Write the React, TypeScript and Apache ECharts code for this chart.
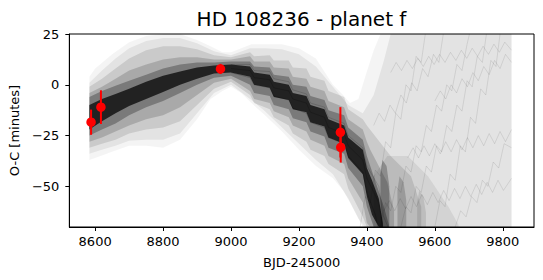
import React, { useEffect, useRef } from "react";
import * as echarts from "echarts";

const TITLE = "HD 108236 - planet f";
const X_NAME = "BJD-245000";
const Y_NAME = "O-C [minutes]";
const X_TICKS = [8600, 8800, 9000, 9200, 9400, 9600, 9800];
const Y_TICKS = [-50, -25, 0, 25];

// observed transit timings
const obsX = [8588, 8617, 8969, 9322, 9323];
const obsY = [-18.4, -11, 7.8, -23.4, -30.8];
const obsErr = [6.2, 8.3, 2.5, 12.4, 7.5];

// posterior density envelopes, outermost to innermost: [x, lower, upper]
const bandL1 = [
  [8583, -37, 4], [8600, -36, 8], [8650, -33, 15], [8700, -30, 21], [8750, -30, 24],
  [8800, -31, 25], [8850, -27, 25], [8900, -17, 22], [8940, -7, 19], [8975, -3, 16],
  [9000, -1, 16], [9030, -4, 18], [9060, -9, 20], [9100, -15, 20], [9150, -23, 20],
  [9200, -32, 18], [9250, -40, 13], [9300, -46, 0], [9330, -52, -5], [9350, -58, -9],
  [9375, -66, -7], [9395, -70, 4], [9420, -70, 17], [9440, -70, 25], [9826, -70, 25],
];
const bandL2 = [
  [8583, -34, 1], [8620, -32, 7], [8660, -30, 13], [8700, -27.5, 18], [8750, -27, 21.5],
  [8800, -27, 23], [8850, -24, 23], [8900, -14, 20.5], [8950, -4, 16.5], [9000, 0, 14.5],
  [9056, -7, 18], [9100, -13, 18], [9150, -21, 17.5], [9200, -29, 15], [9250, -37, 9],
  [9300, -44, -1], [9345, -56, -10], [9388, -70, -14], [9420, -70, -5], [9450, -70, 12],
  [9470, -70, 25], [9826, -70, 25],
];
const bandL3 = [
  [8583, -31, -1], [8620, -29, 3], [8660, -27, 8], [8700, -24, 13], [8750, -22, 17],
  [8800, -21, 19], [8850, -18, 19], [8900, -10, 17.5], [8950, -2, 14.5], [9000, 1.5, 13.5],
  [9056, -5, 16], [9068, -9, 14], [9114, -12, 14.5], [9126, -16, 12], [9170, -20, 12],
  [9182, -24, 8.5], [9222, -28, 8], [9234, -32, 4], [9275, -35, 2], [9287, -39, -3],
  [9333, -44, -6], [9345, -51, -12], [9388, -65, -17], [9400, -70, -20], [9470, -70, -35],
  [9530, -70, -45], [9560, -70, -60],
];
const bandL4 = [
  [8583, -28, -4], [8620, -26, -1], [8660, -23, 3], [8700, -20, 7], [8750, -17, 10],
  [8800, -15, 12.5], [8850, -11, 13.5], [8900, -5, 13.5], [8950, 1, 12.5], [9000, 3, 12.5],
  [9056, -3, 14], [9068, -7, 11.5], [9114, -9, 11.5], [9126, -13, 8.5], [9170, -16, 8],
  [9182, -20, 4], [9222, -23, 3], [9234, -27, -1], [9275, -30, -3], [9287, -35, -8],
  [9333, -39, -11], [9345, -46, -17], [9388, -58, -22], [9400, -68, -28], [9410, -70, -32],
  [9460, -70, -48], [9480, -70, -62],
];
const bandL5 = [
  [8583, -25, -6], [8620, -22, -3], [8660, -19, -0.5], [8700, -15, 2], [8750, -11, 5],
  [8800, -8, 8], [8850, -4, 10], [8900, 0, 11], [8950, 3.5, 11], [9000, 4.5, 11.5],
  [9056, 0, 11.5], [9068, -4, 9], [9114, -5.5, 8.5], [9126, -10, 5], [9170, -12, 4],
  [9182, -16.5, 0], [9222, -18.5, -1], [9234, -23, -5.5], [9275, -25.5, -7.5],
  [9287, -31, -12.5], [9333, -34, -15], [9345, -41, -21], [9388, -50, -27], [9400, -60, -35],
  [9420, -70, -45], [9450, -70, -60], [9465, -70, -69],
];
const bandCore = [
  [8583, -22, -10], [8620, -18, -7], [8660, -14, -4.5], [8700, -10.5, -2], [8750, -7, 1.5],
  [8800, -3.5, 4.5], [8850, 0, 6.5], [8900, 3, 8.5], [8950, 5.5, 9.5], [9000, 6, 10],
  [9056, 4, 9], [9068, 0, 6], [9114, -1.5, 5], [9126, -6, 1.5], [9170, -7.5, 0],
  [9182, -12, -4], [9222, -13.5, -5.5], [9234, -18.5, -10], [9275, -20.5, -12],
  [9287, -26, -17], [9333, -29, -20], [9345, -36, -26], [9388, -44, -32], [9400, -55, -41],
  [9415, -64, -47], [9435, -70, -56], [9447, -70, -68],
];
const bandTail = [
  [9420, -70, -45], [9460, -70, -35], [9520, -70, -35], [9580, -70, -45],
  [9640, -70, -60], [9670, -70, -69],
];
const streak1 = [[9440, -70, -44], [9446, -70, -37], [9458, -70, -40], [9466, -70, -50]];
const streak2 = [[9490, -70, -52], [9496, -70, -45], [9508, -70, -48], [9516, -70, -57]];
const streak3 = [[9548, -70, -58], [9554, -70, -52], [9566, -70, -55], [9574, -70, -63]];

// a few individual sample tracks through the core
const coreA = [
  [9000, 8], [9056, 7], [9068, 3.5], [9114, 2.5], [9126, -1.5], [9170, -3], [9182, -7],
  [9222, -9], [9234, -13.5], [9275, -16], [9287, -21], [9333, -24], [9345, -30],
  [9388, -37], [9400, -46], [9435, -58], [9447, -70],
];
const coreB = [
  [9000, 10], [9056, 10], [9068, 7], [9114, 6.5], [9126, 3], [9170, 1.5], [9182, -2.5],
  [9222, -4.5], [9234, -9], [9275, -11], [9287, -16], [9333, -19], [9345, -25],
  [9388, -31], [9400, -40], [9435, -50], [9447, -64], [9462, -70],
];
const coreC = [
  [9000, 6], [9056, 3.5], [9068, 0], [9114, -1.5], [9126, -5.5], [9170, -7.5], [9182, -11.5],
  [9222, -14], [9234, -18.5], [9275, -21], [9287, -26], [9333, -29], [9345, -35],
  [9388, -43], [9400, -53], [9425, -64], [9432, -70],
];

// faint diverging tracks on the right
const farA = [
  [9380, -70], [9395, -55], [9410, -58], [9425, -42], [9440, -45], [9455, -28], [9470, -31],
  [9485, -14], [9500, -17], [9515, 0], [9530, -3], [9545, 14], [9560, 11], [9572, 25],
];
const farB = [
  [9440, -70], [9455, -58], [9470, -62], [9485, -50], [9500, -53], [9515, -40], [9530, -43],
  [9545, -30], [9560, -33], [9575, -20], [9590, -23], [9605, -10], [9620, -13], [9635, 0],
  [9650, -3], [9665, 10], [9680, 7], [9695, 20], [9702, 25],
];
const farC = [
  [9450, -62], [9466, -57], [9482, -62], [9498, -56], [9514, -61], [9530, -55], [9546, -60],
  [9562, -54], [9578, -59], [9594, -53], [9610, -58], [9626, -52], [9642, -57], [9658, -51],
  [9674, -56], [9690, -50], [9706, -55], [9722, -49], [9738, -54], [9754, -48], [9770, -53],
  [9786, -47], [9802, -52], [9826, -46],
];
const farD = [
  [9420, -20], [9436, -14], [9452, -18], [9468, -10], [9484, -14], [9500, -5], [9516, -9],
  [9532, 1], [9548, -3], [9564, 8], [9580, 4], [9596, 15], [9612, 11], [9625, 25],
];
const farE = [
  [9600, -70], [9615, -57], [9630, -60], [9645, -44], [9660, -47], [9675, -30], [9690, -33],
  [9705, -16], [9720, -19], [9735, -2], [9750, -5], [9765, 12], [9780, 9], [9792, 25],
];
const farF = [
  [9520, -36], [9536, -31], [9552, -36], [9568, -30], [9584, -35], [9600, -29], [9616, -34],
  [9632, -28], [9648, -33], [9664, -27], [9680, -32], [9696, -26], [9712, -31], [9728, -25],
  [9744, -30], [9760, -24], [9776, -29], [9792, -23], [9808, -28], [9826, -22],
];
const farG = [
  [9470, 6], [9486, 11], [9502, 7], [9518, 12], [9534, 8], [9550, 13], [9566, 9], [9582, 14],
  [9598, 10], [9614, 15], [9630, 11], [9646, 16], [9662, 12], [9678, 17], [9694, 13],
  [9710, 18], [9726, 14], [9742, 19], [9758, 15], [9774, 20], [9790, 16], [9806, 21], [9826, 17],
];
const farH = [
  [9660, -70], [9676, -62], [9692, -65], [9708, -55], [9724, -58], [9740, -47], [9756, -50],
  [9772, -38], [9788, -41], [9804, -29], [9826, -31],
];
const farI = [
  [9500, -70], [9515, -60], [9530, -63], [9545, -50], [9560, -53], [9575, -40], [9590, -43],
  [9605, -30], [9620, -33], [9635, -20], [9650, -23], [9665, -10], [9680, -13], [9695, 2],
  [9710, -1], [9725, 14], [9740, 11], [9752, 25],
];
const farJ = [
  [9600, -8], [9616, -3], [9632, -7], [9648, 0], [9664, -4], [9680, 3], [9696, -1],
  [9712, 6], [9728, 2], [9744, 9], [9760, 5], [9776, 12], [9792, 8], [9808, 15], [9826, 11],
];

const FONT = "DejaVu Sans";

function bandSeries(band: number[][], fill: string, z: number) {
  return {
    type: "custom",
    coordinateSystem: "cartesian2d",
    silent: true,
    z,
    data: band.map((b) => [b[0], b[1], b[2]]),
    encode: { x: 0, y: [1, 2] },
    renderItem: (params: any, api: any) => {
      if (params.dataIndex !== 0) return null;
      const top = band.map((b) => api.coord([b[0], b[2]]));
      const bot = band
        .slice()
        .reverse()
        .map((b) => api.coord([b[0], b[1]]));
      return {
        type: "polygon",
        shape: { points: top.concat(bot) },
        style: { fill, stroke: "none" },
      };
    },
  };
}

function trackSeries(data: number[][], color: string, width: number, z: number) {
  return {
    type: "line",
    data,
    silent: true,
    z,
    showSymbol: false,
    symbol: "none",
    lineStyle: { color, width },
  };
}

export default function App() {
  const ref = useRef<HTMLDivElement>(null);
  useEffect(() => {
    const chart = echarts.init(ref.current!, null, { renderer: "svg" });
    const minus = (v: number) => String(v).replace("-", "\u2212");
    const faint = "rgba(0,0,0,0.09)";
    const option: any = {
      animation: false,
      backgroundColor: "#ffffff",
      graphic: [
        {
          type: "text",
          x: 301.5,
          y: 19,
          style: {
            text: TITLE,
            font: `20px "${FONT}"`,
            fill: "#000",
            textAlign: "center",
            textVerticalAlign: "middle",
          },
        },
      ],
      grid: {
        left: 69,
        right: 9,
        top: 34,
        bottom: 53,
        show: true,
        borderColor: "#000",
        borderWidth: 1,
        backgroundColor: "transparent",
      },
      xAxis: {
        type: "value",
        min: 8524,
        max: 9892,
        name: X_NAME,
        nameLocation: "middle",
        nameGap: 29,
        nameTextStyle: { fontFamily: FONT, fontSize: 13, color: "#000" },
        axisLine: { show: true, onZero: false, lineStyle: { color: "#000", width: 1 } },
        axisTick: { show: true, length: 4, customValues: X_TICKS, lineStyle: { color: "#000" } },
        axisLabel: {
          customValues: X_TICKS,
          fontFamily: FONT,
          fontSize: 13,
          color: "#000",
          margin: 8,
          formatter: minus,
        },
        splitLine: { show: false },
      },
      yAxis: {
        type: "value",
        min: -70,
        max: 25,
        name: Y_NAME,
        nameLocation: "middle",
        nameGap: 46,
        nameTextStyle: { fontFamily: FONT, fontSize: 13, color: "#000" },
        axisLine: { show: true, onZero: false, lineStyle: { color: "#000", width: 1 } },
        axisTick: { show: true, length: 4, customValues: Y_TICKS, lineStyle: { color: "#000" } },
        axisLabel: {
          customValues: Y_TICKS,
          fontFamily: FONT,
          fontSize: 13,
          color: "#000",
          margin: 10,
          formatter: minus,
          showMinLabel: true,
          showMaxLabel: true,
        },
        splitLine: { show: false },
      },
      series: [
        bandSeries(bandL1, "rgba(0,0,0,0.045)", 1),
        bandSeries(bandL2, "rgba(0,0,0,0.065)", 1),
        bandSeries(bandTail, "rgba(0,0,0,0.07)", 2),
        bandSeries(streak1, "rgba(0,0,0,0.25)", 2),
        bandSeries(streak2, "rgba(0,0,0,0.18)", 2),
        bandSeries(streak3, "rgba(0,0,0,0.1)", 2),
        bandSeries(bandL3, "rgba(0,0,0,0.11)", 3),
        bandSeries(bandL4, "rgba(0,0,0,0.16)", 3),
        bandSeries(bandL5, "rgba(0,0,0,0.28)", 4),
        bandSeries(bandCore, "rgba(0,0,0,0.72)", 5),
        trackSeries(farA, faint, 1, 6),
        trackSeries(farB, faint, 1, 6),
        trackSeries(farC, faint, 1, 6),
        trackSeries(farD, faint, 1, 6),
        trackSeries(farE, faint, 1, 6),
        trackSeries(farF, faint, 1, 6),
        trackSeries(farG, faint, 1, 6),
        trackSeries(farH, faint, 1, 6),
        trackSeries(farI, faint, 1, 6),
        trackSeries(farJ, faint, 1, 6),
        trackSeries(coreA, "rgba(0,0,0,0.18)", 1, 7),
        trackSeries(coreB, "rgba(0,0,0,0.14)", 1, 7),
        trackSeries(coreC, "rgba(0,0,0,0.18)", 1, 7),
        {
          type: "custom",
          coordinateSystem: "cartesian2d",
          silent: true,
          z: 10,
          data: obsX.map((x, i) => [x, obsY[i] - obsErr[i], obsY[i] + obsErr[i]]),
          encode: { x: 0, y: [1, 2] },
          renderItem: (params: any, api: any) => {
            const p1 = api.coord([api.value(0), api.value(1)]);
            const p2 = api.coord([api.value(0), api.value(2)]);
            return {
              type: "line",
              shape: { x1: p1[0], y1: p1[1], x2: p2[0], y2: p2[1] },
              style: { stroke: "#ff0000", lineWidth: 2 },
            };
          },
        },
        {
          type: "scatter",
          silent: true,
          z: 11,
          symbol: "circle",
          symbolSize: 9.5,
          itemStyle: { color: "#ff0000", opacity: 1 },
          data: obsX.map((x, i) => [x, obsY[i]]),
        },
      ],
    };
    chart.setOption(option);
    return () => chart.dispose();
  }, []);
  return (
    <div
      ref={ref}
      style={{ position: "fixed", left: 0, top: 0, width: 543, height: 280 }}
    />
  );
}
